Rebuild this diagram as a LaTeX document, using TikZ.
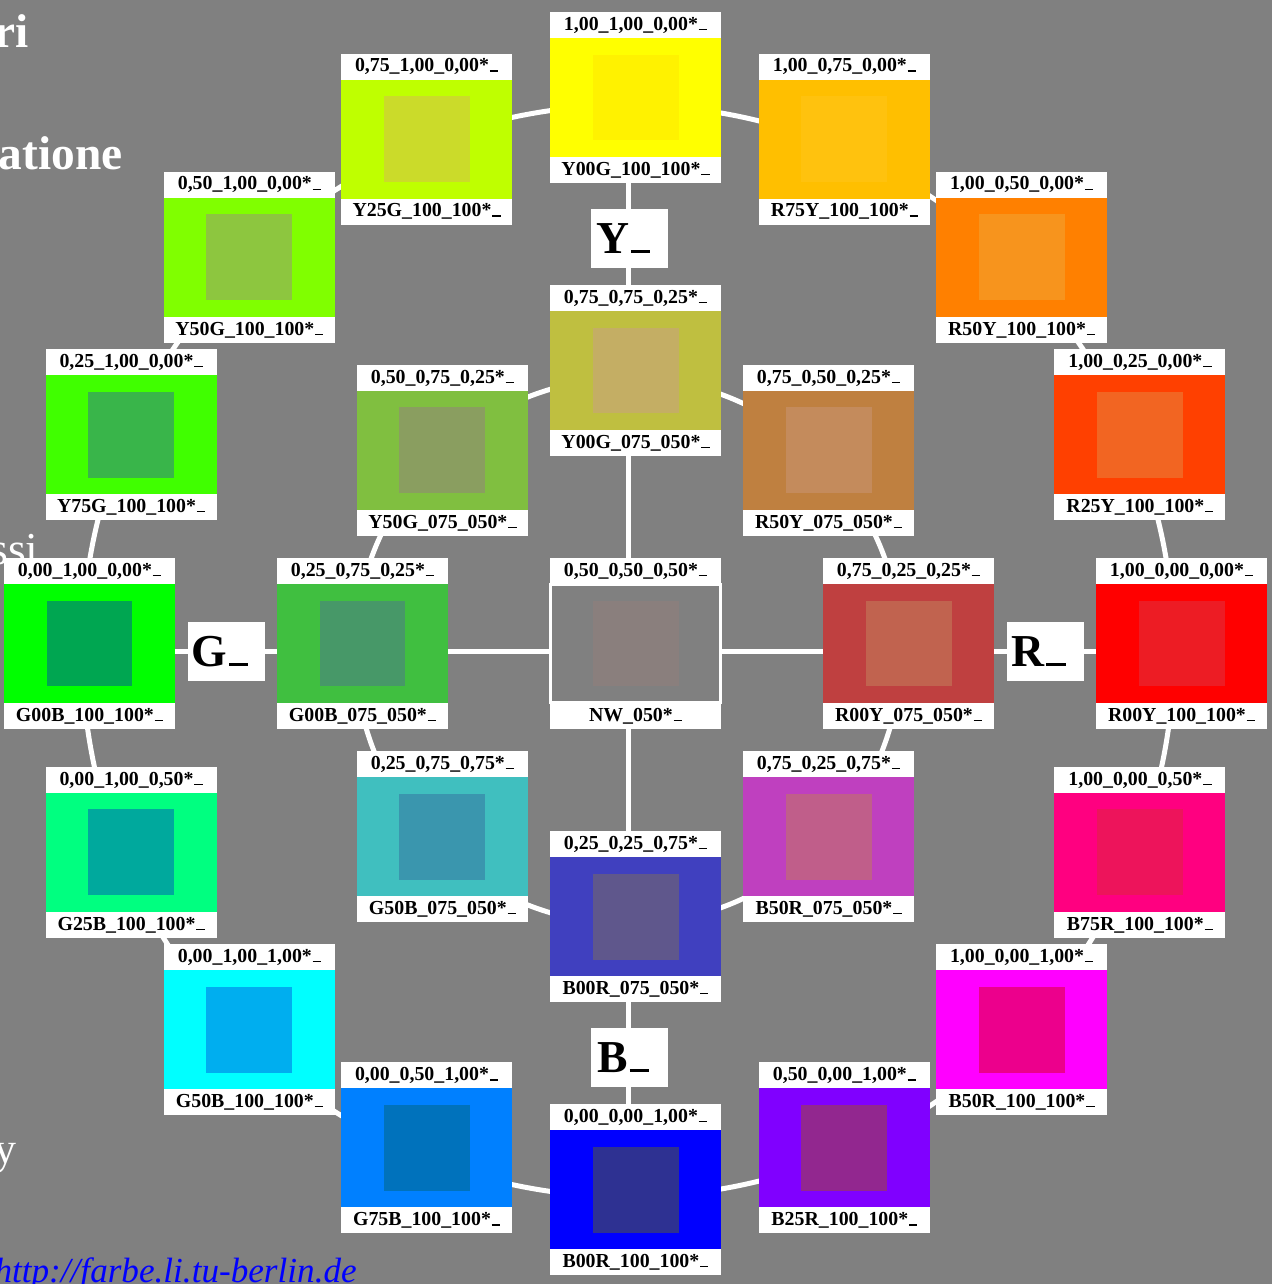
\documentclass[tikz,border=0pt]{standalone}
\usepackage{fontspec}
\setmainfont{Liberation Serif}
\pgfdeclarelayer{bg}
\pgfdeclarelayer{edges}
\pgfsetlayers{bg,edges,main}
\definecolor{bggray}{HTML}{808080}
\newcommand{\tailbar}{\kern0.04em\rule{0.42em}{0.07em}}

\begin{document}
\begin{tikzpicture}[x=0.02cm,y=-0.02cm,
    tile/.style={minimum width=3.42cm,minimum height=2.38cm,inner sep=0pt,outer sep=0pt},
    strip/.style={fill=white,minimum width=3.42cm,minimum height=0.52cm,inner sep=0pt,outer sep=0pt,
        font=\bfseries\fontsize{11.3}{12}\selectfont},
    axisbox/.style={fill=white,minimum width=1.54cm,minimum height=1.18cm,inner sep=0pt,
        font=\bfseries\fontsize{26}{26}\selectfont},
    spoke/.style={white,line width=0.1cm},
    frag/.style={white,inner sep=0pt,anchor=base east}]
\useasboundingbox (0,0) rectangle (1272,1284);
\begin{pgfonlayer}{bg}
    \fill[bggray] (0,0) rectangle (1272,1284);
\end{pgfonlayer}
\coordinate (c) at (628,651);

\node[frag,font=\bfseries\fontsize{27}{27}\selectfont] (t1) at (29,48) {ri};
\node[frag,font=\bfseries\fontsize{27}{27}\selectfont] (t2) at (123,170) {atione};
\node[frag,font=\fontsize{26}{26}\selectfont] (t3) at (39,564) {ssi};
\node[frag,font=\fontsize{25}{25}\selectfont] (t4) at (17,1163) {y};
\node[frag,text=blue,font=\itshape\fontsize{20}{20}\selectfont] (url) at (357,1282) {http://farbe.li.tu-berlin.de};

\foreach \ang/\cout/\cin/\rgbtxt/\hue/\nm in {
        90/FFFF00/FFF200/{1,00\_1,00\_0,00}/Y00G/y100,
        112.5/BFFF00/CBDB2A/{0,75\_1,00\_0,00}/Y25G/y25g,
        135/80FF00/8DC63F/{0,50\_1,00\_0,00}/Y50G/y50g,
        157.5/40FF00/39B54A/{0,25\_1,00\_0,00}/Y75G/y75g,
        180/00FF00/00A651/{0,00\_1,00\_0,00}/G00B/g100,
        202.5/00FF80/00A99D/{0,00\_1,00\_0,50}/G25B/g25b,
        225/00FFFF/00AEEF/{0,00\_1,00\_1,00}/G50B/g50b,
        247.5/0080FF/0072BC/{0,00\_0,50\_1,00}/G75B/g75b,
        270/0000FF/2E3192/{0,00\_0,00\_1,00}/B00R/b100,
        292.5/8000FF/92278F/{0,50\_0,00\_1,00}/B25R/b25r,
        315/FF00FF/EC008C/{1,00\_0,00\_1,00}/B50R/b50r,
        337.5/FF0080/ED145B/{1,00\_0,00\_0,50}/B75R/b75r,
        0/FF0000/ED1C24/{1,00\_0,00\_0,00}/R00Y/r100,
        22.5/FF4000/F26522/{1,00\_0,25\_0,00}/R25Y/r25y,
        45/FF8000/F7941D/{1,00\_0,50\_0,00}/R50Y/r50y,
        67.5/FFBF00/FFC20E/{1,00\_0,75\_0,00}/R75Y/r75y}{
    \definecolor{tileout}{HTML}{\cout}
    \definecolor{tilein}{HTML}{\cin}
    \node[tile,fill=tileout,label={[strip]north:\rgbtxt*\tailbar},
        label={[strip]south:\hue\_100\_100*\tailbar}] (\nm) at ({635.5+546*cos(\ang)},{643.5-546*sin(\ang)}) {};
    \fill[tilein] (\nm.center) ++(-0.86cm,-0.86cm) rectangle ++(1.72cm,1.72cm);
}

\foreach \ang/\cout/\cin/\rgbtxt/\hue/\nm in {
        90/BFBF40/C4AE64/{0,75\_0,75\_0,25}/Y00G/y075,
        135/80BF40/8A9E60/{0,50\_0,75\_0,25}/Y50G/y50g075,
        180/40BF40/479868/{0,25\_0,75\_0,25}/G00B/g075,
        225/40BFBF/3A96AE/{0,25\_0,75\_0,75}/G50B/g50b075,
        270/4040BF/5F578C/{0,25\_0,25\_0,75}/B00R/b075,
        315/BF40BF/C05E8A/{0,75\_0,25\_0,75}/B50R/b50r075,
        0/BF4040/C1634F/{0,75\_0,25\_0,25}/R00Y/r075,
        45/BF8040/C48B5C/{0,75\_0,50\_0,25}/R50Y/r50y075}{
    \definecolor{tileout}{HTML}{\cout}
    \definecolor{tilein}{HTML}{\cin}
    \node[tile,fill=tileout,label={[strip]north:\rgbtxt*\tailbar},
        label={[strip]south:\hue\_075\_050*\tailbar}] (\nm) at ({635.5+273*cos(\ang)},{643.5-273*sin(\ang)}) {};
    \fill[tilein] (\nm.center) ++(-0.86cm,-0.86cm) rectangle ++(1.72cm,1.72cm);
}

\node[tile,fill=bggray,draw=white,line width=0.06cm,label={[strip]north:0,50\_0,50\_0,50*\tailbar},
    label={[strip]south:NW\_050*\tailbar}] (nw) at (635.5,643.5) {};
\fill[fill={rgb,255:red,138;green,127;blue,125}] (nw.center) ++(-0.86cm,-0.86cm) rectangle ++(1.72cm,1.72cm);

\node[axisbox] (ylab) at (629.5,238.5) {Y\tailbar\kern0.26cm};
\node[axisbox] (glab) at (226.5,651.5) {G\tailbar\kern0.26cm};
\node[axisbox] (rlab) at (1045,651.5) {R\tailbar\kern0.26cm};
\node[axisbox] (blab) at (629.5,1057.5) {B\tailbar\kern0.26cm};

\begin{pgfonlayer}{edges}
    \draw[spoke] (c) circle (10.92cm);
    \draw[spoke] (c) circle (5.46cm);
    \draw[spoke] (c |- y100) -- (c |- b100);
    \draw[spoke] (c -| g100) -- (c -| r100);
\end{pgfonlayer}
\end{tikzpicture}
\end{document}
